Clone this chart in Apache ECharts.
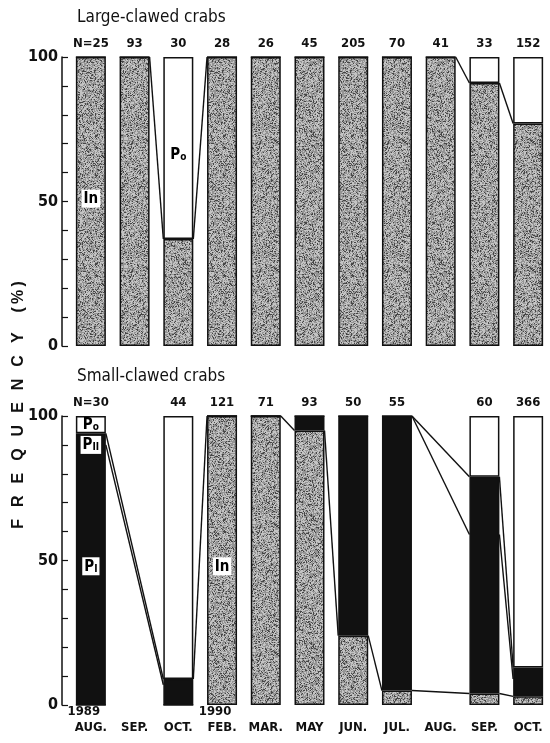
<!DOCTYPE html>
<html>
<head>
<meta charset="utf-8">
<script src="https://cdn.jsdelivr.net/npm/echarts@6/dist/echarts.min.js"></script>
<style>
  html, body { margin: 0; padding: 0; background: #fff; }
  #chart { width: 550px; height: 743px; }
</style>
</head>
<body>
<div id="chart"></div>
<script>
// Sampling months, Aug 1989 - Oct 1990
const months = ['AUG.', 'SEP.', 'OCT.', 'FEB.', 'MAR.', 'MAY', 'JUN.', 'JUL.', 'AUG.', 'SEP.', 'OCT.'];
const years = ['1989', '', '', '1990', '', '', '', '', '', '', ''];

// Large-clawed crabs: sample sizes and moult-stage percentages
const largeN = ['N=25', '93', '30', '28', '26', '45', '205', '70', '41', '33', '152'];
const largeIn = [100, 100, 37, 100, 100, 100, 100, 100, 100, 91, 77];
const largePo = [0, 0, 63, 0, 0, 0, 0, 0, 0, 9, 23];

// Small-clawed crabs (no sample in Sep 1989 and Aug 1990)
const smallN = ['N=30', '', '44', '121', '71', '93', '50', '55', '', '60', '366'];
const smallIn = [0, null, 0, 100, 100, 95, 24, 5, null, 4, 3];
const smallPI = [90, null, 7, 0, 0, 5, 76, 95, null, 55, 6];
const smallPII = [4, null, 2, 0, 0, 0, 0, 0, null, 20, 4];
const smallPo = [6, null, 91, 0, 0, 0, 0, 0, null, 21, 87];

// Connector lines between neighbouring bars: [from, to, number of stacked layers below the boundary]
const largeLinks = [[1, 2, 1], [2, 3, 1], [8, 9, 1], [9, 10, 1]];
const smallLinks = [[0, 2, 2], [0, 2, 3], [2, 3, 3], [4, 5, 1], [5, 6, 1], [6, 7, 1],
                    [7, 9, 1], [7, 9, 2], [7, 9, 3], [9, 10, 1], [9, 10, 2], [9, 10, 3]];

// Stage tags written inside the bars: [bar, value, tag, boxed]
const largeTags = [[0, 51, 'In', true], [2, 66, 'Po', false]];
const smallTags = [[0, 97, 'Po', false], [0, 90, 'PII', true], [0, 48, 'PI', true], [3, 48, 'In', true]];

const FONT = "'Liberation Sans Narrow', 'DejaVu Sans Condensed', 'Liberation Sans', sans-serif";
const INK = '#111';
const BAR_W = 30;

// Fine stippled grey fill for the intermoult stage
function stipple() {
  const size = 128;
  const c = document.createElement('canvas');
  c.width = size; c.height = size;
  const g = c.getContext('2d');
  const img = g.createImageData(size, size);
  let s = 20211;
  for (let i = 0; i < size * size; i++) {
    s = (s * 1103515245 + 12345) & 0x7fffffff;
    const r = s / 0x7fffffff;
    const v = r < 0.16 ? 70 : (r < 0.62 ? 148 : 196);
    img.data[i * 4] = v; img.data[i * 4 + 1] = v; img.data[i * 4 + 2] = v; img.data[i * 4 + 3] = 255;
  }
  g.putImageData(img, 0, 0);
  return { image: c, repeat: 'repeat' };
}
const GREY = stipple();

function cumulative(layers, idx, k) {
  let sum = 0;
  for (let j = 0; j < k; j++) sum += layers[j][idx] || 0;
  return sum;
}

function linkData(layers, links) {
  return links.map(([a, b, k]) => [a, cumulative(layers, a, k), b, cumulative(layers, b, k)]);
}

// PI and PII share the same solid black, so they are drawn as one block
const smallPremoult = smallPI.map((v, i) => (v == null ? null : v + smallPII[i]));

function barSeries(name, data, color, gi, stack) {
  return {
    name, type: 'bar', stack, data,
    xAxisIndex: gi * 2, yAxisIndex: gi,
    barWidth: BAR_W,
    itemStyle: { color, borderColor: INK, borderWidth: 1.5 },
    z: 2
  };
}

function linkSeries(data, gi) {
  return {
    type: 'custom', xAxisIndex: gi * 2, yAxisIndex: gi, z: 3,
    encode: { x: [0, 2], y: [1, 3] },
    data,
    silent: true,
    renderItem(params, api) {
      const p1 = api.coord([api.value(0), api.value(1)]);
      const p2 = api.coord([api.value(2), api.value(3)]);
      return {
        type: 'line',
        shape: { x1: p1[0] + BAR_W / 2, y1: p1[1], x2: p2[0] - BAR_W / 2, y2: p2[1] },
        style: { stroke: INK, lineWidth: 1.4 }
      };
    }
  };
}

function tagText(t) {
  if (t === 'In') return '{p|In}';
  return '{p|P}{s|' + t.slice(1) + '}';
}

function tagSeries(tags, gi) {
  return {
    type: 'scatter', xAxisIndex: gi * 2, yAxisIndex: gi, z: 5, silent: true,
    symbolSize: 0,
    itemStyle: { opacity: 1 },
    data: tags.map(([i, v, t, boxed]) => ({
      value: [i, v],
      label: {
        show: true, position: 'inside', opacity: 1,
        formatter: tagText(t),
        backgroundColor: boxed ? '#ffffff' : 'transparent',
        padding: boxed ? [2, 2, 1, 2] : 0,
        rich: {
          p: { fontFamily: FONT, fontSize: 15, fontWeight: 'bold', color: '#000' },
          s: { fontFamily: FONT, fontSize: 10, fontWeight: 'bold', color: '#000', padding: [5, 0, 0, 0] }
        }
      }
    }))
  };
}

const grids = [
  { left: 69, width: 488, top: 57, height: 289 },
  { left: 69, width: 488, top: 416, height: 289 }
];

function monthAxis(gi, showLabels) {
  return {
    type: 'category', gridIndex: gi, data: months, position: 'bottom',
    axisLine: { show: false }, axisTick: { show: false },
    axisLabel: {
      show: showLabels, margin: 1, interval: 0,
      formatter: (v, i) => '{y|' + (years[i] || '\u00a0') + '}\n{m|' + v + '}',
      rich: {
        y: { fontFamily: FONT, fontSize: 13, fontWeight: 'bold', color: INK, lineHeight: 12, padding: [0, 14, 0, 0] },
        m: { fontFamily: FONT, fontSize: 13, fontWeight: 'bold', color: INK, lineHeight: 19 }
      }
    }
  };
}

function countAxis(gi, labels) {
  return {
    type: 'category', gridIndex: gi, data: labels, position: 'top',
    axisLine: { show: false }, axisTick: { show: false },
    axisLabel: { interval: 0, margin: 7, fontFamily: FONT, fontSize: 13, fontWeight: 'bold', color: INK }
  };
}

function valueAxis(gi) {
  return {
    type: 'value', gridIndex: gi, min: 0, max: 100, interval: 10, offset: 7,
    axisLine: { show: true, lineStyle: { color: INK, width: 1.5 } },
    axisTick: { show: true, inside: true, length: 6, lineStyle: { color: INK, width: 1.2 } },
    splitLine: { show: false },
    axisLabel: {
      margin: 4, fontFamily: FONT, fontSize: 16, fontWeight: 'bold', color: INK,
      formatter: v => (v % 50 === 0 ? String(v) : '')
    }
  };
}

const smallLayers = [smallIn, smallPI, smallPII, smallPo];
const largeLayers = [largeIn, largePo];

const titleStyle = { fontFamily: FONT, fontSize: 17, fontWeight: 'normal', color: INK };

const option = {
  animation: false,
  backgroundColor: '#fff',
  title: [
    { text: 'Large-clawed crabs', left: 77, top: 9, padding: 0, textStyle: titleStyle },
    { text: 'Small-clawed crabs', left: 77, top: 368, padding: 0, textStyle: titleStyle }
  ],
  graphic: [{
    type: 'text', x: 19, y: 405, rotation: Math.PI / 2,
    style: {
      text: 'F\u2002\u2005R\u2002\u2005E\u2002\u2005Q\u2002\u2005U\u2002\u2005E\u2002\u2005N\u2002\u2005C\u2002\u2005Y\u2002\u2002\u2005(\u2009%\u2009)',
      fontFamily: "'Liberation Sans', 'DejaVu Sans', sans-serif", fontSize: 16, fontWeight: 'bold',
      fill: INK, align: 'center', verticalAlign: 'middle'
    }
  }],
  grid: grids,
  xAxis: [monthAxis(0, false), countAxis(0, largeN), monthAxis(1, true), countAxis(1, smallN)],
  yAxis: [valueAxis(0), valueAxis(1)],
  series: [
    barSeries('In', largeIn, GREY, 0, 'large'),
    barSeries('Po', largePo, '#fff', 0, 'large'),
    linkSeries(linkData(largeLayers, largeLinks), 0),
    tagSeries(largeTags, 0),
    barSeries('In', smallIn, GREY, 1, 'small'),
    barSeries('PI + PII', smallPremoult, INK, 1, 'small'),
    barSeries('Po', smallPo, '#fff', 1, 'small'),
    linkSeries(linkData(smallLayers, smallLinks), 1),
    tagSeries(smallTags, 1)
  ]
};

const chart = echarts.init(document.getElementById('chart'), null, { renderer: 'canvas' });
chart.setOption(option);
</script>
</body>
</html>
